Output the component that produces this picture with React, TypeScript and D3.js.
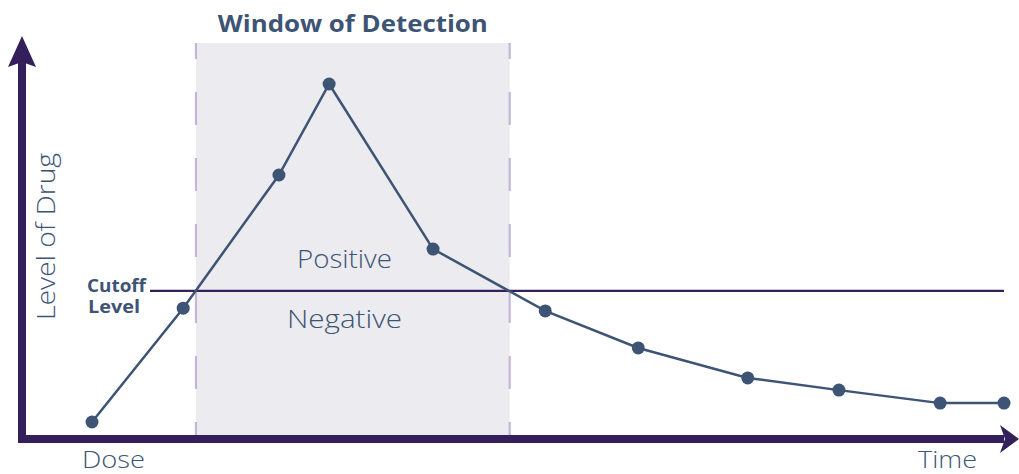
import React from 'react';
import * as d3 from 'd3';

// drug level samples (time in arbitrary units, level as % of max)
const times = [0, 1.0, 2.05, 2.6, 3.74, 4.97, 5.99, 7.19, 8.19, 9.3, 10];
const levels = [3.8, 32.7, 66.5, 89.6, 47.7, 32, 22.6, 15, 11.9, 8.6, 8.6];
const cutoff = 37.1;
const windowRange = [1.14, 4.58];
const labels = { title: 'Window of Detection', yLabel: 'Level of Drug', start: 'Dose', end: 'Time' };

const W = 1019;
const H = 474;
const axisColor = '#33205b';
const inkColor = '#3d5474';
const font = '"Open Sans", Lato, sans-serif';

const App: React.FC = () => {
  const x = d3.scaleLinear().domain([0, 10]).range([92, 1004]);
  const y = d3.scaleLinear().domain([0, 100]).range([437, 43]);

  const line = d3.line<number>()
    .x((_, i) => x(times[i]))
    .y(d => y(d));

  const wx0 = x(windowRange[0]);
  const wx1 = x(windowRange[1]);
  const yTop = y(100);
  const yBase = 435;

  return (
    <svg width={W} height={H} style={{ position: 'absolute', left: 0, top: 0 }}>
      {/* window of detection band */}
      <rect x={wx0} y={yTop} width={wx1 - wx0} height={yBase - yTop} fill="#ebebf0" />
      {[wx0, wx1].map((bx, i) => (
        <line key={i} x1={bx} x2={bx} y1={yTop} y2={yBase}
          stroke="#c3b6d6" strokeWidth={2.2} strokeDasharray="33 33" strokeDashoffset={17} />
      ))}
      <text x={(wx0 + wx1) / 2} y={32} textAnchor="middle" fontFamily={font}
        fontWeight={700} fontSize={23} fill={inkColor} textLength={270} lengthAdjust="spacingAndGlyphs">{labels.title}</text>

      <text x={344.5} y={268} textAnchor="middle" fontFamily={font}
        fontWeight={300} fontSize={25} fill={inkColor} textLength={95} lengthAdjust="spacingAndGlyphs">Positive</text>
      <text x={344.5} y={328} textAnchor="middle" fontFamily={font}
        fontWeight={300} fontSize={25} fill={inkColor} textLength={115} lengthAdjust="spacingAndGlyphs">Negative</text>

      {/* cutoff */}
      <line x1={150} x2={x(10)} y1={y(cutoff)} y2={y(cutoff)} stroke={axisColor} strokeWidth={2.4} />
      <text textAnchor="middle" fontFamily={font} fontWeight={700} fontSize={17} fill={inkColor}>
        <tspan x={116.5} y={292} textLength={59} lengthAdjust="spacingAndGlyphs">Cutoff</tspan>
        <tspan x={114} y={313} textLength={52} lengthAdjust="spacingAndGlyphs">Level</tspan>
      </text>

      {/* drug curve */}
      <path d={line(levels) || ''} fill="none" stroke={inkColor} strokeWidth={2.5} />
      {levels.map((v, i) => (
        <circle key={i} cx={x(times[i])} cy={y(v)} r={6.5} fill={inkColor} />
      ))}

      {/* axes */}
      <line x1={22} x2={22} y1={443} y2={62} stroke={axisColor} strokeWidth={8} />
      <path d="M22,36 L36,67 L22,62 L8,67 Z" fill={axisColor} />
      <line x1={18} x2={1004} y1={439} y2={439} stroke={axisColor} strokeWidth={8} />
      <path d="M1019,439 L1000,453 L1005,439 L1000,425 Z" fill={axisColor} />

      <text transform={`translate(55,236.5) rotate(-90)`} textAnchor="middle" fontFamily={font}
        fontWeight={300} fontSize={26} fill={inkColor} textLength={167} lengthAdjust="spacingAndGlyphs">{labels.yLabel}</text>
      <text x={113.5} y={468} textAnchor="middle" fontFamily={font}
        fontWeight={300} fontSize={24} fill={inkColor} textLength={63} lengthAdjust="spacingAndGlyphs">{labels.start}</text>
      <text x={947.5} y={468} textAnchor="middle" fontFamily={font}
        fontWeight={300} fontSize={24} fill={inkColor} textLength={59} lengthAdjust="spacingAndGlyphs">{labels.end}</text>
    </svg>
  );
};

export default App;
